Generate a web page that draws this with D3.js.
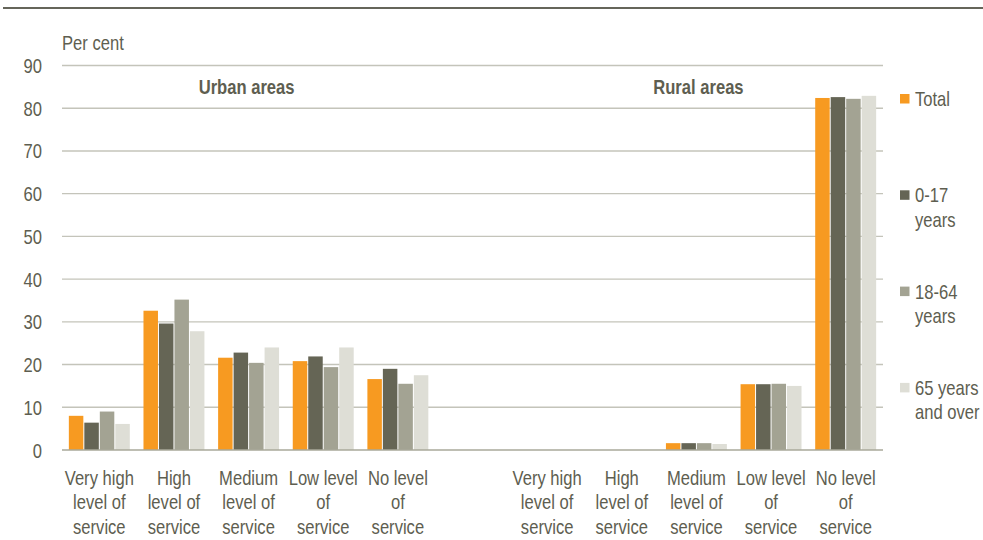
<!DOCTYPE html>
<html>
<head>
<meta charset="utf-8">
<script src="https://cdn.jsdelivr.net/npm/d3@7"></script>
<style>
  html, body { margin: 0; padding: 0; background: #fff; }
  svg { display: block; }
  text { font-family: "Liberation Sans", Arial, sans-serif; fill: #5e5e50; }
</style>
</head>
<body>
<svg id="chart" width="983" height="540"></svg>
<script>
// ---- Data ----
const categories = ["Very high\nlevel of\nservice", "High\nlevel of\nservice", "Medium\nlevel of\nservice", "Low level\nof\nservice", "No level\nof\nservice"];
const areas = ["Urban areas", "Rural areas"];
const seriesNames = ["Total", "0-17\nyears", "18-64\nyears", "65 years\nand over"];
const urbanTotal  = [8.0, 32.6, 21.6, 20.8, 16.6];
const urban0_17   = [6.4, 29.6, 22.8, 21.9, 19.0];
const urban18_64  = [9.0, 35.2, 20.4, 19.4, 15.5];
const urban65plus = [6.1, 27.8, 24.0, 24.0, 17.5];
const ruralTotal  = [0, 0, 1.6, 15.4, 82.4];
const rural0_17   = [0, 0, 1.6, 15.4, 82.6];
const rural18_64  = [0, 0, 1.6, 15.5, 82.2];
const rural65plus = [0, 0, 1.4, 15.0, 82.9];
const yTicks = [0, 10, 20, 30, 40, 50, 60, 70, 80, 90];
const yTitle = "Per cent";
const colors = ["#f79a21", "#656555", "#a3a393", "#deded6"];

const SX = 0.83; // horizontal condensing (narrow font look)

// ---- Build table ----
const urbanSeries = [urbanTotal, urban0_17, urban18_64, urban65plus];
const ruralSeries = [ruralTotal, rural0_17, rural18_64, rural65plus];
const slotKeys = [];
const groups = [];
categories.forEach((c, i) => { slotKeys.push("U" + i); groups.push({key: "U" + i, label: c, values: urbanSeries.map(s => s[i])}); });
slotKeys.push("gap");
categories.forEach((c, i) => { slotKeys.push("R" + i); groups.push({key: "R" + i, label: c, values: ruralSeries.map(s => s[i])}); });

const svg = d3.select("#chart");

// top rule (cropped title)
svg.append("line").attr("x1", 3).attr("x2", 983).attr("y1", 8).attr("y2", 8)
  .attr("stroke", "#65655a").attr("stroke-width", 2.2);

const x0 = d3.scaleBand().domain(slotKeys).range([62, 883]).padding(0);
const bw = x0.bandwidth();
const x1 = d3.scaleBand().domain(d3.range(seriesNames.length)).range([bw * 0.085, bw * 0.915]).padding(0);
const y = d3.scaleLinear().domain([0, 90]).range([450, 65.5]);

// gridlines
svg.append("g").selectAll("line").data(yTicks.filter(d => d > 0)).join("line")
  .attr("x1", 62).attr("x2", 883)
  .attr("y1", d => y(d)).attr("y2", d => y(d))
  .attr("stroke", "#c4c4ba").attr("stroke-width", 1.4);

// y axis labels
const yAxis = d3.axisLeft(y).tickValues(yTicks).tickSize(0).tickPadding(0);
const gy = svg.append("g").attr("transform", "translate(42,0)").call(yAxis);
gy.select(".domain").remove();
gy.selectAll("text").attr("x", null).attr("dy", null).attr("y", 7)
  .attr("font-size", 20).attr("fill", "#5e5e50")
  .attr("transform", `scale(${SX},1)`)
  .style("font-family", "'Liberation Sans',Arial,sans-serif");

svg.append("text").attr("transform", `translate(62,50) scale(${SX},1)`).attr("font-size", 20).text(yTitle);

// bars
const gg = svg.append("g").selectAll("g").data(groups).join("g")
  .attr("transform", d => `translate(${x0(d.key)},0)`);
gg.selectAll("rect").data(d => d.values.map((v, i) => ({v, i}))).join("rect")
  .attr("x", d => x1(d.i) + 0.5)
  .attr("width", x1.bandwidth() - 1)
  .attr("y", d => y(d.v))
  .attr("height", d => y(0) - y(d.v))
  .attr("fill", d => colors[d.i]);

// baseline
svg.append("line").attr("x1", 62).attr("x2", 883).attr("y1", y(0)).attr("y2", y(0))
  .attr("stroke", "#a8a89a").attr("stroke-width", 1.6);

// x labels
const xl = svg.append("g").selectAll("text").data(groups).join("text")
  .attr("text-anchor", "middle").attr("font-size", 20)
  .attr("transform", d => `translate(${x0(d.key) + bw / 2},0) scale(${SX},1)`);
xl.selectAll("tspan").data(d => d.label.split("\n")).join("tspan")
  .attr("x", 0).attr("y", (d, i) => 485 + i * 24.3).text(d => d);

// area titles
svg.append("text").attr("transform", `translate(${x0("U2") + bw / 2 - 2},94) scale(${SX},1)`).attr("text-anchor", "middle")
  .attr("font-size", 20).attr("font-weight", "bold").attr("fill", "#66665a").text(areas[0]);
svg.append("text").attr("transform", `translate(${x0("R2") + bw / 2 + 2},94) scale(${SX},1)`).attr("text-anchor", "middle")
  .attr("font-size", 20).attr("font-weight", "bold").attr("fill", "#66665a").text(areas[1]);

// legend
const lg = svg.append("g").selectAll("g").data(seriesNames).join("g")
  .attr("transform", (d, i) => `translate(900,${106 + i * 96.3})`);
lg.append("rect").attr("x", 0).attr("y", -12).attr("width", 9.5).attr("height", 9.5)
  .attr("fill", (d, i) => colors[i]);
const lt = lg.append("text").attr("font-size", 20).attr("transform", `translate(15,0) scale(${SX},1)`);
lt.selectAll("tspan").data(d => d.split("\n")).join("tspan")
  .attr("x", 0).attr("y", (d, i) => i * 24.3).text(d => d);
</script>
</body>
</html>
